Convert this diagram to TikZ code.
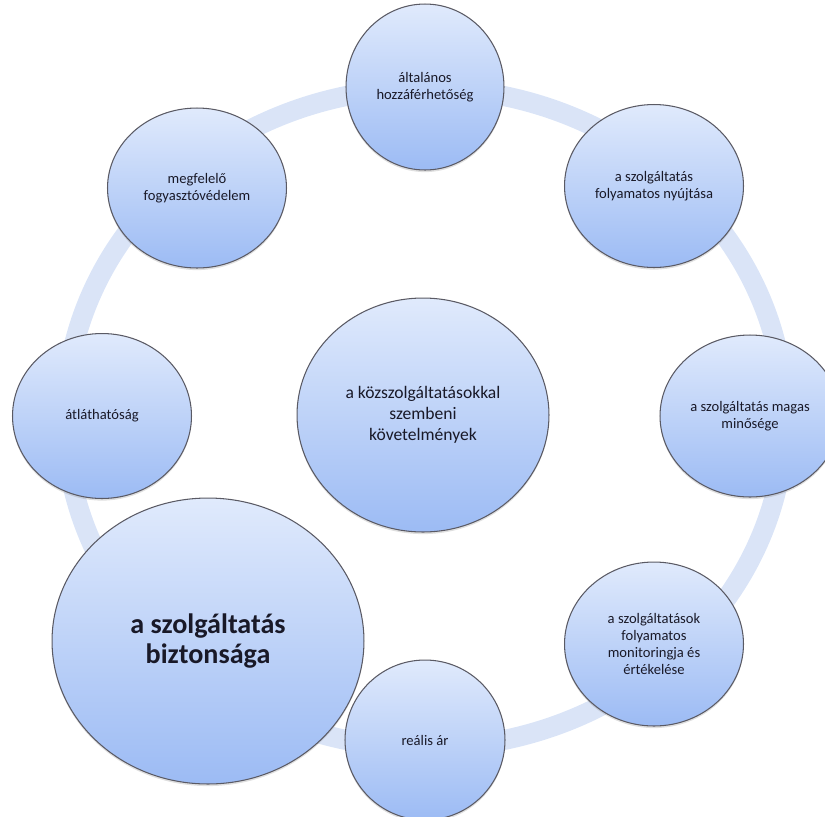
\documentclass[tikz,border=0pt]{standalone}
\usepackage{fontspec}
\setmainfont{Carlito}
\usetikzlibrary{shapes.geometric, shadows}
\definecolor{ringblue}{RGB}{218,228,247}
\definecolor{toplight}{RGB}{224,234,252}
\definecolor{botblue}{RGB}{156,187,244}
\definecolor{edgegray}{RGB}{90,90,100}
\definecolor{inktext}{RGB}{25,25,40}
\tikzset{
  x=0.02cm, y=-0.02cm,
  bubble/.style={ellipse, draw=edgegray, line width=0.6pt, inner sep=0pt,
    top color=toplight, bottom color=botblue, align=center, text=inktext,
    drop shadow={opacity=0.25, shadow xshift=0pt, shadow yshift=-1.2pt},
    font=\fontsize{8.3}{9.8}\selectfont},
  ring/.style={draw=ringblue, line width=11.4pt},
}

\begin{document}
\begin{tikzpicture}
      \useasboundingbox (0,0) rectangle (825,816);
      \draw[ring] (425,418) ellipse [x radius=7.2cm, y radius=6.6cm];

      \node[bubble, minimum width=5.04cm, minimum height=4.68cm,
            font=\fontsize{10}{12}\selectfont] (core) at (423,415)
            {a közszolgáltatásokkal\\szembeni\\követelmények};

      \node[bubble, minimum width=3.16cm, minimum height=3.32cm] (access) at (425,87)
            {általános\\hozzáférhetőség};
      \node[bubble, minimum width=3.58cm, minimum height=3.26cm] (supply) at (654,186)
            {a szolgáltatás\\folyamatos nyújtása};
      \node[bubble, minimum width=3.6cm,  minimum height=3.24cm] (quality) at (750,416)
            {a szolgáltatás magas\\minősége};
      \node[bubble, minimum width=3.58cm, minimum height=3.28cm] (monitor) at (654,644)
            {a szolgáltatások\\folyamatos\\monitoringja és\\értékelése};
      \node[bubble, minimum width=3.2cm,  minimum height=3.2cm] (price) at (425,740)
            {reális ár};
      \node[bubble, minimum width=6.24cm, minimum height=5.72cm,
            font=\fontsize{16}{17}\selectfont\bfseries] (safety) at (208,641)
            {a szolgáltatás\\biztonsága};
      \node[bubble, minimum width=3.58cm, minimum height=3.3cm] (transp) at (102,416)
            {átláthatóság};
      \node[bubble, minimum width=3.58cm, minimum height=3.2cm] (consumer) at (197,188)
            {megfelelő\\fogyasztóvédelem};
    \end{tikzpicture}
\end{document}
